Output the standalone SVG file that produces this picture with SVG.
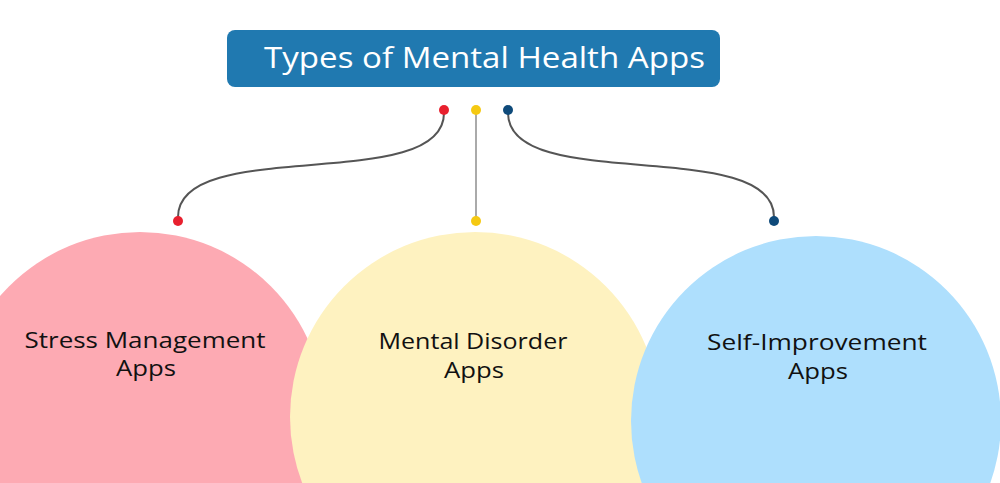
<svg xmlns="http://www.w3.org/2000/svg" width="1000" height="483" viewBox="0 0 1000 483">
<style>
.lbl{font-family:"Open Sans","Liberation Sans",sans-serif;font-size:21px;fill:#111;text-anchor:middle}
.ttl{font-family:"Open Sans","Liberation Sans",sans-serif;font-size:30px;fill:#fff;text-anchor:middle}
.curve{fill:none;stroke:#555;stroke-width:2}
</style>
<rect width="1000" height="483" fill="#fff"/>
<g id="title">
<rect x="227" y="30" width="493" height="57" rx="8" fill="#2079B0"/>
<text class="ttl" x="484.5" y="68" textLength="441" lengthAdjust="spacingAndGlyphs">Types of Mental Health Apps</text>
</g>
<g id="stress">
<circle cx="140" cy="417" r="185" fill="#FDAAB3"/>
<text class="lbl" x="145" y="348" textLength="241" lengthAdjust="spacingAndGlyphs">Stress Management</text>
<text class="lbl" x="146" y="376" textLength="60" lengthAdjust="spacingAndGlyphs">Apps</text>
</g>
<g id="disorder">
<circle cx="475" cy="417" r="185" fill="#FEF2C0"/>
<text class="lbl" x="473" y="349" textLength="189" lengthAdjust="spacingAndGlyphs">Mental Disorder</text>
<text class="lbl" x="474" y="378" textLength="60" lengthAdjust="spacingAndGlyphs">Apps</text>
</g>
<g id="self">
<circle cx="816" cy="421" r="185" fill="#AEDFFD"/>
<text class="lbl" x="817" y="350" textLength="220" lengthAdjust="spacingAndGlyphs">Self-Improvement</text>
<text class="lbl" x="818" y="379" textLength="60" lengthAdjust="spacingAndGlyphs">Apps</text>
</g>
<g id="connectors">
<path class="curve" d="M444,113 C444,195 178,135 178,217"/>
<line x1="476" y1="110" x2="476" y2="220" stroke="#aaa" stroke-width="2"/>
<path class="curve" d="M508,113 C508,195 774,135 774,217"/>
<circle cx="444" cy="110" r="5" fill="#E8202E"/>
<circle cx="476" cy="110" r="5" fill="#F5C912"/>
<circle cx="508" cy="110" r="5" fill="#0E4A7A"/>
<circle cx="178" cy="221" r="5" fill="#E8202E"/>
<circle cx="476" cy="221" r="5" fill="#F5C912"/>
<circle cx="774" cy="221" r="5" fill="#0E4A7A"/>
</g>
</svg>
